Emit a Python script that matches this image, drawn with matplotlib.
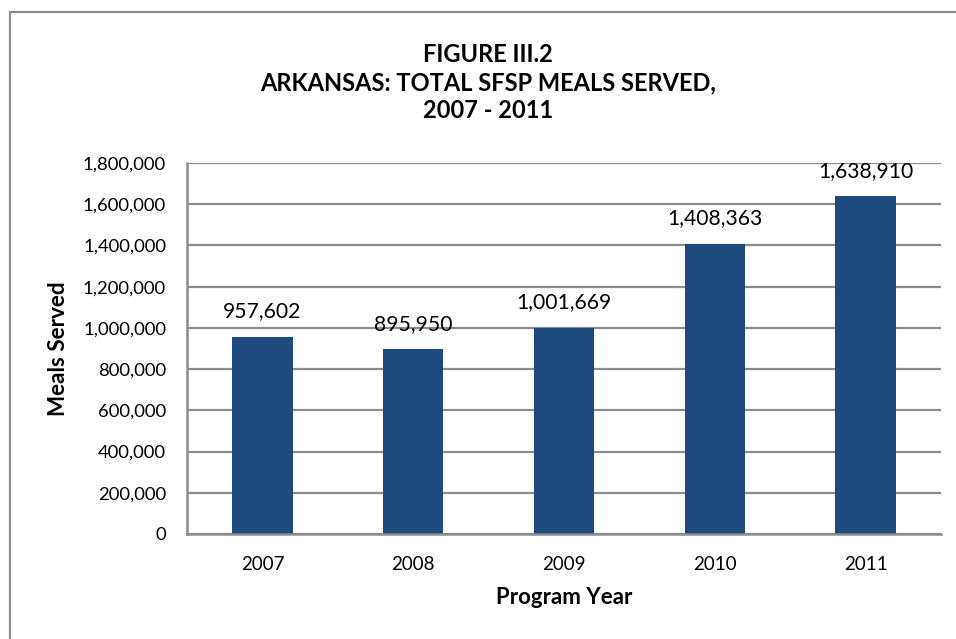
import matplotlib
matplotlib.use("Agg")
import matplotlib.pyplot as plt
from matplotlib.patches import Rectangle
from matplotlib.ticker import FuncFormatter, MultipleLocator

years = ["2007", "2008", "2009", "2010", "2011"]
meals = [957602, 895950, 1001669, 1408363, 1638910]
title_lines = ["FIGURE III.2", "ARKANSAS: TOTAL SFSP MEALS SERVED,", "2007 - 2011"]

BAR = "#1F4A7E"
GRID = "#8C8C8C"
FONT = "Lato"

plt.rcParams["font.family"] = [FONT, "DejaVu Sans"]

fig = plt.figure(figsize=(9.56, 6.39), dpi=100)
fig.patch.set_facecolor("white")

# frame around the chart area (runs off the right and bottom edge)
fig.patches.append(Rectangle((10 / 956, -0.05), 1.2, 1 - 12 / 639 + 0.05,
                             transform=fig.transFigure, fill=False,
                             edgecolor=GRID, linewidth=1.6, zorder=0))

ax = fig.add_axes([187 / 956, 1 - 534 / 639, (941 - 187) / 956, (534 - 163) / 639])

x = range(len(years))
ax.bar(x, meals, width=0.4, color=BAR, zorder=3)

ax.set_xlim(-0.5, len(years) - 0.5)
ax.set_ylim(0, 1800000)
ax.yaxis.set_major_locator(MultipleLocator(200000))
ax.yaxis.set_major_formatter(FuncFormatter(lambda v, p: f"{int(v):,}"))
ax.set_xticks(list(x))
ax.set_xticklabels(years)

ax.grid(axis="y", color=GRID, linewidth=1.6, zorder=0)
for s in ["top", "right"]:
    ax.spines[s].set_visible(False)
for s in ["left", "bottom"]:
    ax.spines[s].set_color(GRID)
    ax.spines[s].set_linewidth(1.8)
    ax.spines[s].set_zorder(4)

ax.tick_params(axis="y", length=0, pad=15, labelsize=13.3)
ax.tick_params(axis="x", length=0, pad=16, labelsize=13.5)

for xi, v in zip(x, meals):
    ax.annotate(f"{v:,}", (xi, v), xytext=(0, 11), textcoords="offset points",
                ha="center", va="bottom", fontsize=15.2, zorder=5)

ax.set_ylabel("Meals Served", fontsize=16.2, fontweight="bold", labelpad=10)
ax.set_xlabel("Program Year", fontsize=16, fontweight="bold", labelpad=10)

for i, line in enumerate(title_lines):
    fig.text(488 / 956, 1 - (62 + 28 * i) / 639, line, ha="center", va="baseline",
             fontsize=17, fontweight="bold")

fig.savefig("out.png", dpi=100, facecolor="white")
